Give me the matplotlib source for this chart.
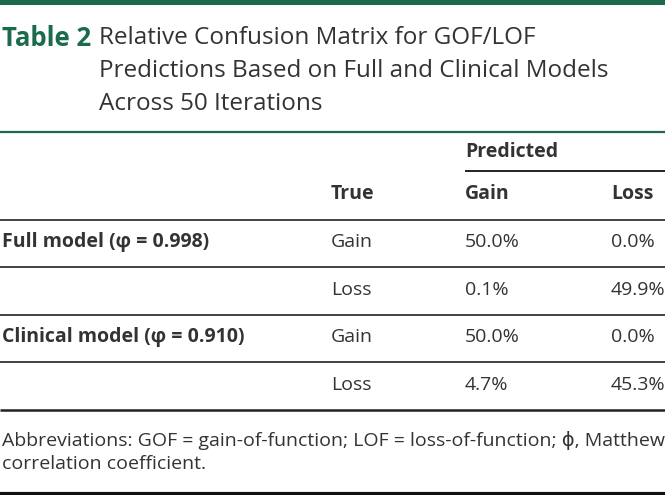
import matplotlib
matplotlib.use("Agg")
import matplotlib.pyplot as plt
from matplotlib.lines import Line2D

# table content
title_label = "Table 2"
title_lines = ["Relative Confusion Matrix for GOF/LOF",
               "Predictions Based on Full and Clinical Models",
               "Across 50 Iterations"]
models = ["Full model (φ = 0.998)", "", "Clinical model (φ = 0.910)", ""]
true_class = ["Gain", "Loss", "Gain", "Loss"]
pred_gain = ["50.0%", "0.1%", "50.0%", "4.7%"]
pred_loss = ["0.0%", "49.9%", "0.0%", "45.3%"]
col_heads = ["True", "Gain", "Loss"]
footnote = ["Abbreviations: GOF = gain-of-function; LOF = loss-of-function; ϕ, Matthew",
            "correlation coefficient."]

green = "#1b6b4b"
ink = "#333333"
plt.rcParams['font.family'] = ['Open Sans', 'DejaVu Sans']

W, H = 665, 495
fig = plt.figure(figsize=(W / 100, H / 100), dpi=100)
ax = fig.add_axes([0, 0, 1, 1])
ax.set_xlim(0, W)
ax.set_ylim(H, 0)
ax.axis('off')

def hline(y, x0=0, x1=W, lw=1.2, color="#222222"):
    ax.add_line(Line2D([x0, x1], [y, y], lw=lw, color=color, solid_capstyle='butt'))

# top band + title
ax.add_patch(plt.Rectangle((0, 0), W, 5, color=green, lw=0))
ax.text(2, 38, title_label, fontsize=18.5, fontweight='bold', color=green, va='center')
for i, s in enumerate(title_lines):
    ax.text(99, 38 + i * 33, s, fontsize=17.5, color=ink, va='center')
hline(132, lw=1.6, color=green)

# header
bs = 14
x_true, x_gain, x_loss = 331, 465, 611
ax.text(x_gain, 152, "Predicted", fontsize=bs, fontweight='bold', color=ink, va='center')
hline(171, x0=465, lw=1.4)
for x, s in zip([x_true, x_gain, x_loss], col_heads):
    ax.text(x, 194, s, fontsize=bs, fontweight='bold', color=ink, va='center')
hline(220)

# body rows
row_y = [242, 290, 337, 385]
for i, y in enumerate(row_y):
    ax.text(2, y, models[i], fontsize=bs, fontweight='bold', color=ink, va='center')
    ax.text(x_true, y, true_class[i], fontsize=bs, color=ink, va='center')
    ax.text(x_gain, y, pred_gain[i], fontsize=bs, color=ink, va='center')
    ax.text(x_loss, y, pred_loss[i], fontsize=bs, color=ink, va='center')
    if i < len(row_y) - 1:
        hline(y + 25)
hline(410, lw=1.8)

# footnote
for i, s in enumerate(footnote):
    ax.text(2, 440 + i * 24, s, fontsize=14, color=ink, va='center')
hline(493.5, lw=3, color="#111111")

fig.savefig("out.png", dpi=100)
